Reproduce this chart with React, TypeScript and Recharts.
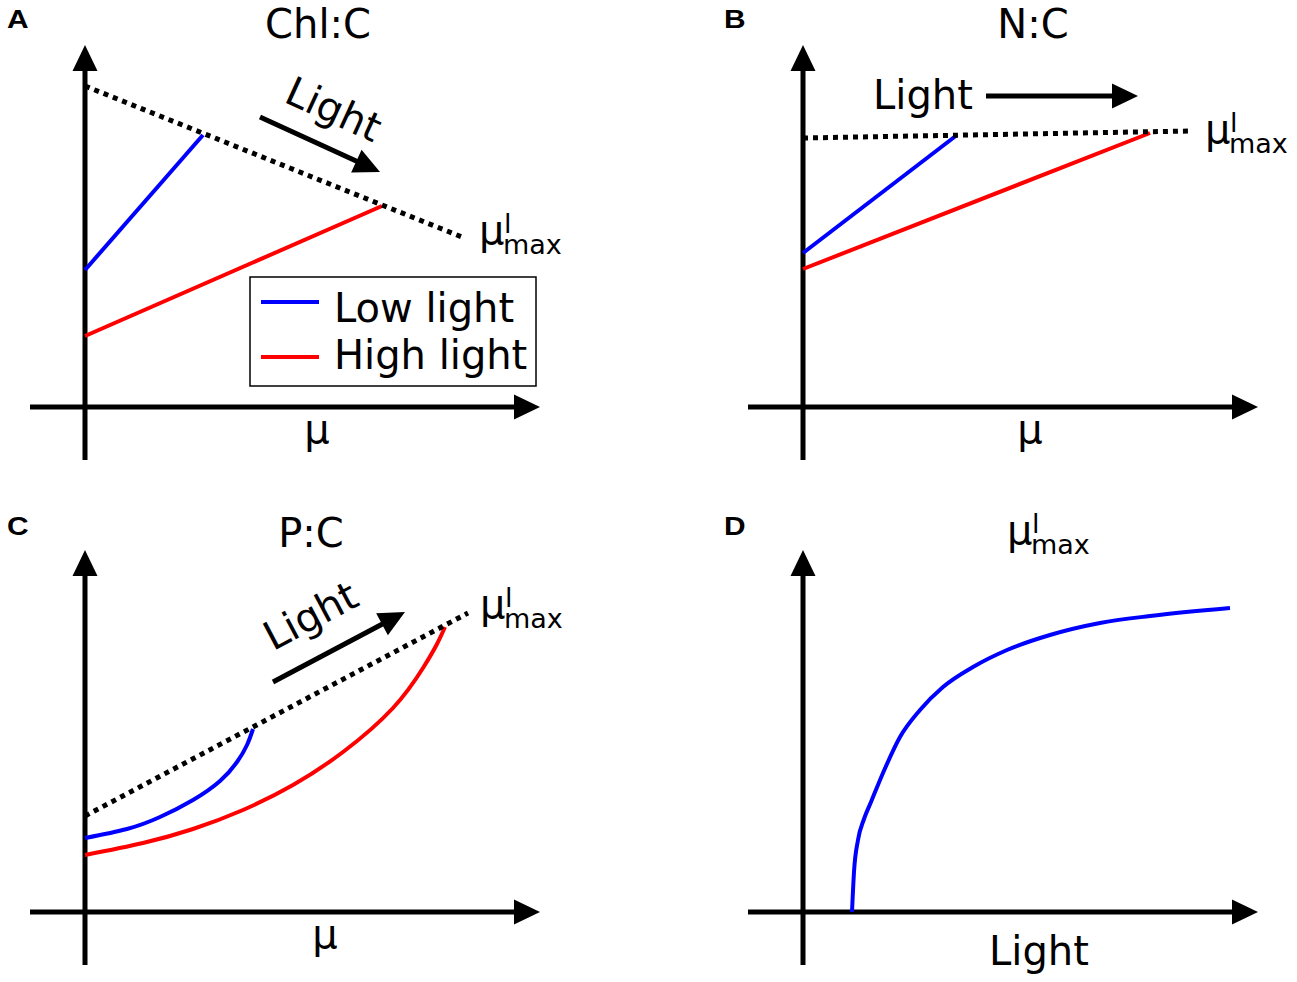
import { LineChart, Line, XAxis, YAxis, ReferenceLine } from 'recharts';

const FONT = '"DejaVu Sans", sans-serif';
const BLUE = '#0000ff';
const RED = '#ff0000';

// schematic units: 1 unit = 100px, origin at the crossing of the axes
const X_DOMAIN: [number, number] = [-0.6, 4.65];
const Y_DOMAIN: [number, number] = [-0.63, 3.67];
const xAxisSeg = [{ x: -0.55, y: 0 }, { x: 4.55, y: 0 }];
const yAxisSeg = [{ x: 0, y: -0.53 }, { x: 0, y: 3.62 }];

// A: Chl:C
const chlMuMax = [{ x: 0, y: 3.21 }, { x: 3.77, y: 1.7 }];
const chlLow = [{ x: 0, y: 1.37 }, { x: 1.18, y: 2.72 }];
const chlHigh = [{ x: 0, y: 0.71 }, { x: 2.97, y: 2.01 }];
const chlArrow = [{ x: 1.75, y: 2.9 }, { x: 2.95, y: 2.35 }];

// B: N:C
const ncMuMax = [{ x: 0, y: 2.69 }, { x: 3.87, y: 2.76 }];
const ncLow = [{ x: 0, y: 1.54 }, { x: 1.54, y: 2.72 }];
const ncHigh = [{ x: 0, y: 1.38 }, { x: 3.47, y: 2.74 }];
const ncArrow = [{ x: 1.83, y: 3.11 }, { x: 3.35, y: 3.11 }];

// C: P:C
const pcMuMax = [{ x: 0, y: 0.96 }, { x: 3.83, y: 2.99 }];
const pcLow = [
  { x: 0, y: 0.74 }, { x: 0.42, y: 0.83 }, { x: 0.75, y: 0.95 }, { x: 1.08, y: 1.12 },
  { x: 1.35, y: 1.31 }, { x: 1.52, y: 1.5 }, { x: 1.62, y: 1.67 }, { x: 1.68, y: 1.83 },
];
const pcHigh = [
  { x: 0, y: 0.57 }, { x: 0.58, y: 0.69 }, { x: 1.08, y: 0.83 }, { x: 1.58, y: 1.02 },
  { x: 2.08, y: 1.27 }, { x: 2.58, y: 1.6 }, { x: 3.08, y: 2.04 }, { x: 3.38, y: 2.44 },
  { x: 3.52, y: 2.68 }, { x: 3.6, y: 2.85 },
];
const pcArrow = [{ x: 1.88, y: 2.3 }, { x: 3.2, y: 3.0 }];

// D: mu max vs light
const muLight = [
  { x: 0.49, y: 0 }, { x: 0.51, y: 0.4 }, { x: 0.55, y: 0.72 }, { x: 0.61, y: 0.93 },
  { x: 0.68, y: 1.1 }, { x: 0.8, y: 1.39 }, { x: 0.97, y: 1.75 }, { x: 1.17, y: 2.02 },
  { x: 1.4, y: 2.25 }, { x: 1.7, y: 2.45 }, { x: 2.04, y: 2.62 }, { x: 2.47, y: 2.77 },
  { x: 2.97, y: 2.89 }, { x: 3.47, y: 2.96 }, { x: 4.27, y: 3.04 },
];

const legendItems = [
  { name: 'Low light', color: BLUE },
  { name: 'High light', color: RED },
];

const panelLetters = [
  { label: 'A', x: 7, y: 28 },
  { label: 'B', x: 724, y: 28 },
  { label: 'C', x: 7, y: 535 },
  { label: 'D', x: 724, y: 535 },
];

const arrowShape = (props: any) => {
  const { x1, y1, x2, y2 } = props;
  const dx = x2 - x1;
  const dy = y2 - y1;
  const len = Math.hypot(dx, dy) || 1;
  const ux = dx / len;
  const uy = dy / len;
  const head = 26;
  const half = 12.5;
  const bx = x2 - ux * head;
  const by = y2 - uy * head;
  return (
    <g>
      <line x1={x1} y1={y1} x2={bx + ux} y2={by + uy} stroke="#000" strokeWidth={5} />
      <polygon
        points={`${x2},${y2} ${bx - uy * half},${by + ux * half} ${bx + uy * half},${by - ux * half}`}
        fill="#000"
      />
    </g>
  );
};

type Series = { data: { x: number; y: number }[]; color: string; dotted?: boolean; curve?: 'natural' | 'monotone' };

function Panel({ left, top, series, arrow }: { left: number; top: number; series: Series[]; arrow?: { x: number; y: number }[] }) {
  return (
    <div style={{ position: 'absolute', left, top }}>
      <LineChart width={525} height={430} margin={{ top: 0, right: 0, bottom: 0, left: 0 }}>
        <XAxis type="number" dataKey="x" domain={X_DOMAIN} hide allowDataOverflow />
        <YAxis type="number" dataKey="y" domain={Y_DOMAIN} hide allowDataOverflow />
        <ReferenceLine segment={xAxisSeg} ifOverflow="visible" shape={arrowShape} />
        <ReferenceLine segment={yAxisSeg} ifOverflow="visible" shape={arrowShape} />
        {arrow && <ReferenceLine segment={arrow} ifOverflow="visible" shape={arrowShape} />}
        {series.map((s, i) => (
          <Line
            key={i}
            data={s.data}
            dataKey="y"
            type={s.curve ?? 'linear'}
            stroke={s.color}
            strokeWidth={s.dotted ? 5 : 4}
            strokeDasharray={s.dotted ? '5 5' : undefined}
            dot={false}
            activeDot={false}
            legendType="none"
            isAnimationActive={false}
          />
        ))}
      </LineChart>
    </div>
  );
}

function MuMax({ x, y }: { x: number; y: number }) {
  return (
    <g fontFamily={FONT} fill="#000">
      <text x={x} y={y} fontSize={40}>μ</text>
      <text x={x + 25} y={y - 11} fontSize={27}>l</text>
      <text x={x + 24} y={y + 10} fontSize={27}>max</text>
    </g>
  );
}

export default function App() {
  const letterFont = '"Liberation Sans", Arial, sans-serif';
  return (
    <div style={{ position: 'absolute', left: 0, top: 0, width: 1297, height: 982, background: '#fff' }}>
      <Panel
        left={25}
        top={40}
        arrow={chlArrow}
        series={[
          { data: chlLow, color: BLUE },
          { data: chlHigh, color: RED },
          { data: chlMuMax, color: '#000', dotted: true },
        ]}
      />
      <Panel
        left={743}
        top={40}
        arrow={ncArrow}
        series={[
          { data: ncLow, color: BLUE },
          { data: ncHigh, color: RED },
          { data: ncMuMax, color: '#000', dotted: true },
        ]}
      />
      <Panel
        left={25}
        top={545}
        arrow={pcArrow}
        series={[
          { data: pcLow, color: BLUE, curve: 'natural' },
          { data: pcHigh, color: RED, curve: 'natural' },
          { data: pcMuMax, color: '#000', dotted: true },
        ]}
      />
      <Panel left={743} top={545} series={[{ data: muLight, color: BLUE, curve: 'monotone' }]} />

      <svg width={1297} height={982} style={{ position: 'absolute', left: 0, top: 0, pointerEvents: 'none' }}>
        {panelLetters.map((p) => (
          <text
            key={p.label}
            transform={`translate(${p.x} ${p.y}) scale(1.15 1)`}
            fontFamily={letterFont}
            fontWeight={700}
            fontSize={26}
            fill="#000"
          >
            {p.label}
          </text>
        ))}
        <g fontFamily={FONT} fontSize={40} fill="#000">
          <text x={318} y={38} textAnchor="middle">Chl:C</text>
          <text x={1033} y={38} textAnchor="middle">N:C</text>
          <text x={311} y={547} textAnchor="middle">P:C</text>
          <text x={317} y={443} textAnchor="middle">μ</text>
          <text x={1030} y={443} textAnchor="middle">μ</text>
          <text x={325} y={948} textAnchor="middle">μ</text>
          <text x={1039} y={965} textAnchor="middle">Light</text>
          <text x={328} y={122} textAnchor="middle" transform="rotate(24.6 328 122)">Light</text>
          <text x={873} y={109}>Light</text>
          <text x={317} y={628} textAnchor="middle" transform="rotate(-27.9 317 628)">Light</text>
        </g>
        <MuMax x={479} y={244} />
        <MuMax x={1205} y={143} />
        <MuMax x={480} y={618} />
        <MuMax x={1007} y={544} />

        <rect x={250} y={277} width={286} height={109} fill="#fff" stroke="#000" strokeWidth={1.5} />
        {legendItems.map((item, i) => (
          <g key={item.name}>
            <line x1={261} x2={319} y1={302 + i * 55} y2={302 + i * 55} stroke={item.color} strokeWidth={4} />
            <text x={334} y={322 + i * 47} fontFamily={FONT} fontSize={40} fill="#000">{item.name}</text>
          </g>
        ))}
      </svg>
    </div>
  );
}
